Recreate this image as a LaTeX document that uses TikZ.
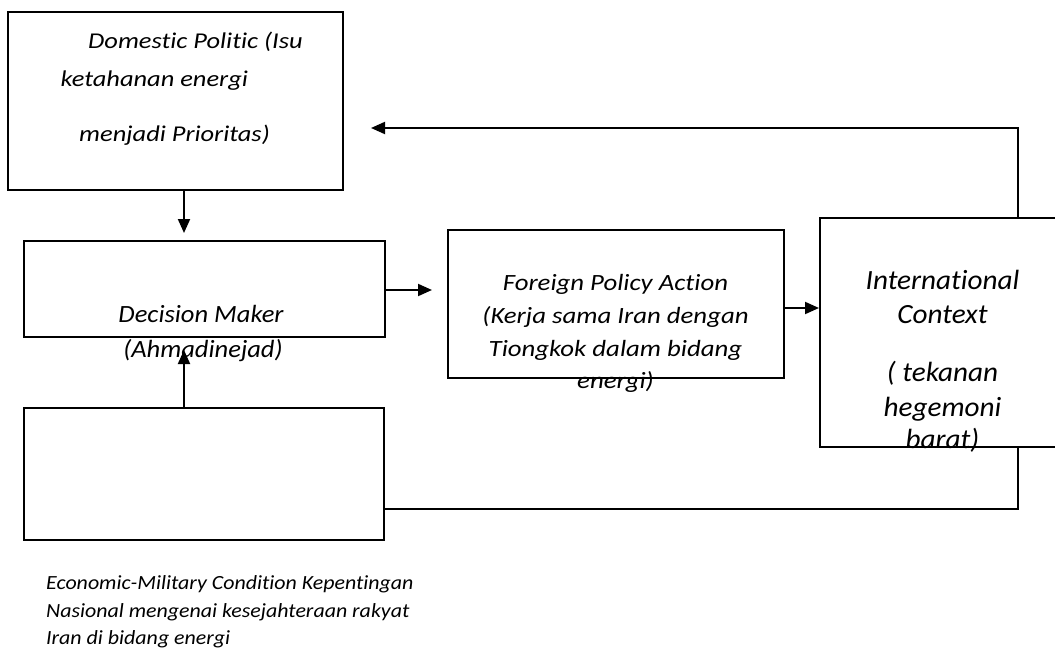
\documentclass[tikz,border=0pt]{standalone}
\usepackage{fontspec}
\setmainfont{Carlito}[Ligatures=CommonOff]
\newfontfamily\fdom[FakeStretch=1.17,Ligatures=CommonOff]{Carlito}
\newfontfamily\fdec[FakeStretch=1.07,Ligatures=CommonOff]{Carlito}
\newfontfamily\ffp[FakeStretch=1.15,Ligatures=CommonOff]{Carlito}
\newfontfamily\fint[FakeStretch=1.05,Ligatures=CommonOff]{Carlito}
\newfontfamily\fbot[FakeStretch=1.09,Ligatures=CommonOff]{Carlito}
\usetikzlibrary{arrows.meta}
\begin{document}
\begin{tikzpicture}[x=1pt,y=-1pt,
  box/.style={draw,line width=2pt,inner sep=0pt,minimum width=#1},
  dom/.style={inner sep=0pt,anchor=base,font=\fdom\fontsize{22.6}{26}\selectfont\itshape},
  dec/.style={inner sep=0pt,anchor=base,font=\fdec\fontsize{24.8}{28}\selectfont\itshape},
  fp/.style={inner sep=0pt,anchor=base,font=\ffp\fontsize{23.3}{27}\selectfont\itshape},
  intl/.style={inner sep=0pt,anchor=base,font=\fint\fontsize{27.8}{32}\selectfont\itshape},
  bot/.style={inner sep=0pt,anchor=base west,font=\fbot\fontsize{20.1}{24}\selectfont\itshape},
  arr/.style={line width=2pt,-{Triangle[length=14pt,width=12pt]}},
  ln/.style={line width=2pt}]
\useasboundingbox (0,0) rectangle (1055,650);
% boxes
\node[box=335pt,minimum height=178pt] (dom) at (175.5,101) {};
\node[box=361pt,minimum height=96pt] (dec) at (204.5,289) {};
\node[box=336pt,minimum height=148pt] (fp) at (616,304) {};
\node[box=240pt,minimum height=229pt] (intl) at (940,332.5) {};
\node[box=360pt,minimum height=132pt] (bot) at (204,474) {};
% texts
\node[dom] (t1) at (195.5,49) {Domestic Politic (Isu};
\node[dom,anchor=base west] (t2) at (60.5,87) {ketahanan energi};
\node[dom] (t3) at (174.5,142) {menjadi Prioritas)};
\node[dec] (t4) at (201,322) {Decision Maker};
\node[dec] (t5) at (203,357) {(Ahmadinejad)};
\node[fp] (t6) at (615.5,290.7) {Foreign Policy Action};
\node[fp] (t7) at (615.5,323.4) {(Kerja sama Iran dengan};
\node[fp] (t8) at (615.5,356) {Tiongkok dalam bidang};
\node[fp] (t9) at (615.5,388.8) {energi)};
\node[intl] (t10) at (942.5,289.3) {International};
\node[intl] (t11) at (942.5,323.3) {Context};
\node[intl] (t12) at (942.5,381.7) {( tekanan};
\node[intl] (t13) at (942.5,416.7) {hegemoni};
\node[intl] (t14) at (942.5,448.3) {barat)};
\node[bot] (t15) at (46,589) {Economic-Military Condition Kepentingan};
\node[bot] (t16) at (46,617.5) {Nasional mengenai kesejahteraan rakyat};
\node[bot] (t17) at (46,644.5) {Iran di bidang energi};
% connectors
\coordinate (c1) at (184,233);
\coordinate (c2) at (432,290);
\coordinate (c3) at (1018,128);
\coordinate (c4) at (371,128);
\coordinate (c5) at (184,350);
\coordinate (c6) at (1018,509);
\coordinate (c7) at (784,308);
\draw[arr] (dom.south -| c1) -- (c1);
\draw[arr] (dec.east |- c2) -- (c2);
\draw[arr] (fp.east |- c7) -- (intl.west |- c7);
\draw[arr] (intl.north -| c3) -- (c3) -- (c4);
\draw[arr] (bot.north -| c5) -- (c5);
\draw[ln] (bot.east |- c6) -- (c6) -- (intl.south -| c6);
\end{tikzpicture}
\end{document}
